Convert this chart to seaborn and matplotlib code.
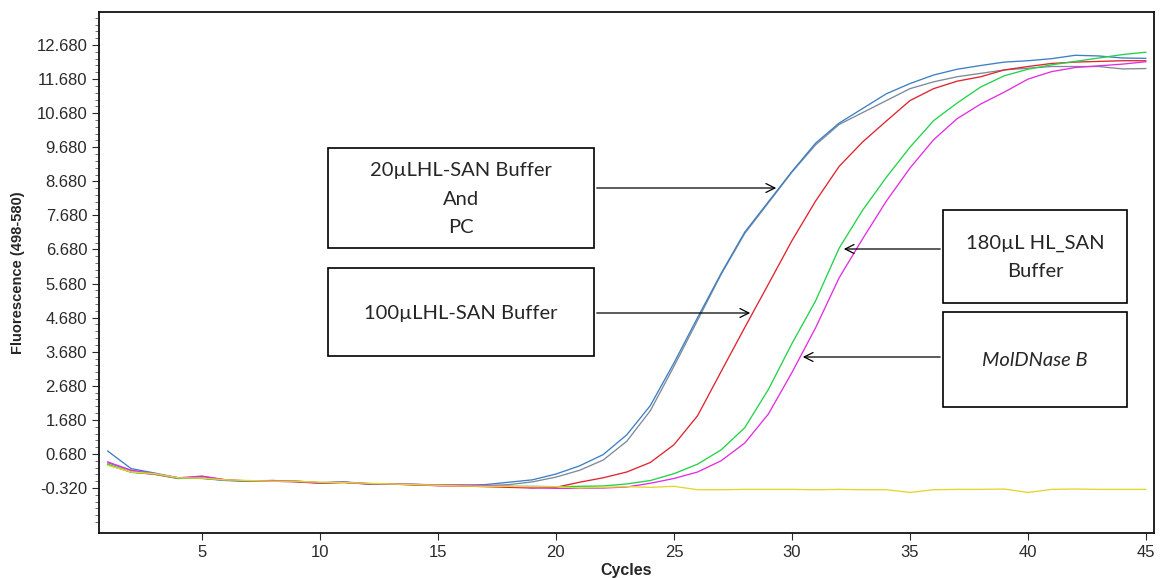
import numpy as np
import pandas as pd
import seaborn as sns
import matplotlib.pyplot as plt
from matplotlib.patches import Rectangle, FancyArrowPatch
from matplotlib.ticker import FixedLocator

# dados (ciclos 1..45)
cycles = list(range(1, 46))

pc_gray = [0.42, 0.20, 0.10, -0.03, -0.04, -0.10, -0.12, -0.11, -0.12, -0.16,
           -0.15, -0.20, -0.21, -0.22, -0.25, -0.25, -0.25, -0.22, -0.14, 0.00,
           0.20, 0.50, 1.05, 1.95, 3.25, 4.60, 5.95, 7.15, 8.05, 8.95,
           9.75, 10.35, 10.70, 11.05, 11.40, 11.60, 11.75, 11.85, 11.95, 12.00,
           12.05, 12.05, 12.05, 11.98, 11.99]
buf20_blue = [0.77, 0.25, 0.12, -0.02, -0.03, -0.09, -0.12, -0.10, -0.13, -0.17,
              -0.14, -0.19, -0.20, -0.22, -0.24, -0.24, -0.22, -0.15, -0.08, 0.09,
              0.33, 0.66, 1.24, 2.10, 3.35, 4.68, 5.98, 7.19, 8.08, 8.97,
              9.80, 10.39, 10.82, 11.25, 11.55, 11.80, 11.97, 12.08, 12.18, 12.22,
              12.28, 12.38, 12.36, 12.30, 12.29]
buf100_red = [0.36, 0.15, 0.08, -0.04, 0.02, -0.08, -0.12, -0.12, -0.14, -0.18,
              -0.16, -0.20, -0.20, -0.23, -0.25, -0.26, -0.28, -0.30, -0.32, -0.30,
              -0.15, -0.02, 0.15, 0.43, 0.95, 1.80, 3.10, 4.39, 5.66, 6.94,
              8.10, 9.12, 9.84, 10.45, 11.05, 11.40, 11.62, 11.75, 11.95, 12.05,
              12.14, 12.18, 12.20, 12.22, 12.22]
buf180_green = [0.38, 0.14, 0.09, -0.04, -0.03, -0.09, -0.12, -0.11, -0.12, -0.17,
                -0.15, -0.19, -0.21, -0.21, -0.24, -0.24, -0.26, -0.27, -0.27, -0.28,
                -0.27, -0.26, -0.20, -0.10, 0.10, 0.38, 0.80, 1.45, 2.57, 3.92,
                5.17, 6.72, 7.84, 8.80, 9.68, 10.46, 10.98, 11.45, 11.78, 11.97,
                12.10, 12.20, 12.30, 12.40, 12.47]
moldnase_magenta = [0.45, 0.20, 0.10, -0.02, 0.03, -0.08, -0.11, -0.10, -0.12, -0.17,
                    -0.15, -0.19, -0.20, -0.21, -0.23, -0.23, -0.25, -0.27, -0.31, -0.33,
                    -0.33, -0.32, -0.29, -0.18, -0.04, 0.15, 0.48, 1.00, 1.85, 3.07,
                    4.38, 5.85, 7.00, 8.10, 9.07, 9.90, 10.52, 10.95, 11.30, 11.68,
                    11.90, 12.02, 12.07, 12.12, 12.19]
ntc_yellow = [0.35, 0.15, 0.10, -0.02, -0.03, -0.08, -0.10, -0.12, -0.12, -0.15,
              -0.16, -0.18, -0.20, -0.22, -0.24, -0.26, -0.27, -0.27, -0.28, -0.28,
              -0.32, -0.30, -0.28, -0.30, -0.27, -0.37, -0.37, -0.36, -0.36, -0.36,
              -0.37, -0.36, -0.37, -0.37, -0.45, -0.37, -0.36, -0.36, -0.35, -0.45,
              -0.36, -0.35, -0.36, -0.36, -0.36]

sample_names = ['PC', '20uL', '100uL', '180uL', 'MolDNase', 'NTC']
sample_colors = ['#7d8a99', '#3d7fc6', '#e0242e', '#22d24a', '#e22ee0', '#e6d52e']
series = [pc_gray, buf20_blue, buf100_red, buf180_green, moldnase_magenta, ntc_yellow]

y_ticks = [-0.32 + i for i in range(14)]

df = pd.concat([pd.DataFrame({'Cycles': cycles, 'Fluor': vals, 'sample': name})
                for name, vals in zip(sample_names, series)], ignore_index=True)

sns.set_style('white')
plt.rcParams['font.family'] = ['Liberation Sans', 'DejaVu Sans']

W, H = 1160, 578
fig = plt.figure(figsize=(W / 100, H / 100), dpi=100)
ax = fig.add_axes([99 / W, 1 - 533 / H, (1154 - 99) / W, (533 - 12) / H])

sns.lineplot(data=df, x='Cycles', y='Fluor', hue='sample', hue_order=sample_names,
             palette=dict(zip(sample_names, sample_colors)), linewidth=0.95,
             legend=False, ax=ax)

ax.set_xlim(0.64, 45.34)
ax.set_ylim(-1.64, 13.65)
ax.xaxis.set_major_locator(FixedLocator([5, 10, 15, 20, 25, 30, 35, 40, 45]))
ax.yaxis.set_major_locator(FixedLocator(y_ticks))
ax.yaxis.set_minor_locator(FixedLocator(np.arange(-1.32, 13.6, 0.2)))
ax.set_yticklabels([f'{v:.3f}' for v in y_ticks])
ax.tick_params(axis='both', which='major', direction='out', length=5, width=0.8,
               labelsize=12, colors='#2a2a2a', left=True, bottom=True)
ax.tick_params(axis='y', which='minor', direction='out', length=3, width=0.6,
               color='#555555', left=True)
for s in ax.spines.values():
    s.set_color('#111111')
    s.set_linewidth(1.3)

ax.set_xlabel('Cycles', fontsize=11.5, fontweight='bold', labelpad=2)
ax.set_ylabel('Fluorescence (498-580)', fontsize=10.5, fontweight='bold', labelpad=8)


def fx(px):
    return px / W


def fy(py):
    return 1 - py / H


# caixas de anotação
boxes = [
    ((328, 148, 594, 248), '20µLHL-SAN Buffer\nAnd\nPC', 'normal'),
    ((328, 268, 594, 356), '100µLHL-SAN Buffer', 'normal'),
    ((943, 210, 1127, 303), '180µL HL_SAN\nBuffer', 'normal'),
    ((943, 312, 1127, 407), 'MolDNase B', 'italic'),
]
for (x0, y0, x1, y1), txt, st in boxes:
    fig.add_artist(Rectangle((fx(x0), fy(y1)), fx(x1) - fx(x0), fy(y0) - fy(y1),
                             transform=fig.transFigure, facecolor='white',
                             edgecolor='black', linewidth=1.2))
    fig.text(fx((x0 + x1) / 2), fy((y0 + y1) / 2 + 1), txt, ha='center', va='center',
             fontsize=14.5, style=st, family='Lato', linespacing=1.8)

arrows = [((594, 188), (779, 188)), ((594, 313), (753, 313)),
          ((943, 249), (841, 249)), ((943, 357), (800, 357))]
for (xa, ya), (xb, yb) in arrows:
    fig.add_artist(FancyArrowPatch((fx(xa), fy(ya)), (fx(xb), fy(yb)),
                                   transform=fig.transFigure, arrowstyle='->',
                                   mutation_scale=16, linewidth=0.9, color='black'))

fig.savefig('out.png', dpi=100)
